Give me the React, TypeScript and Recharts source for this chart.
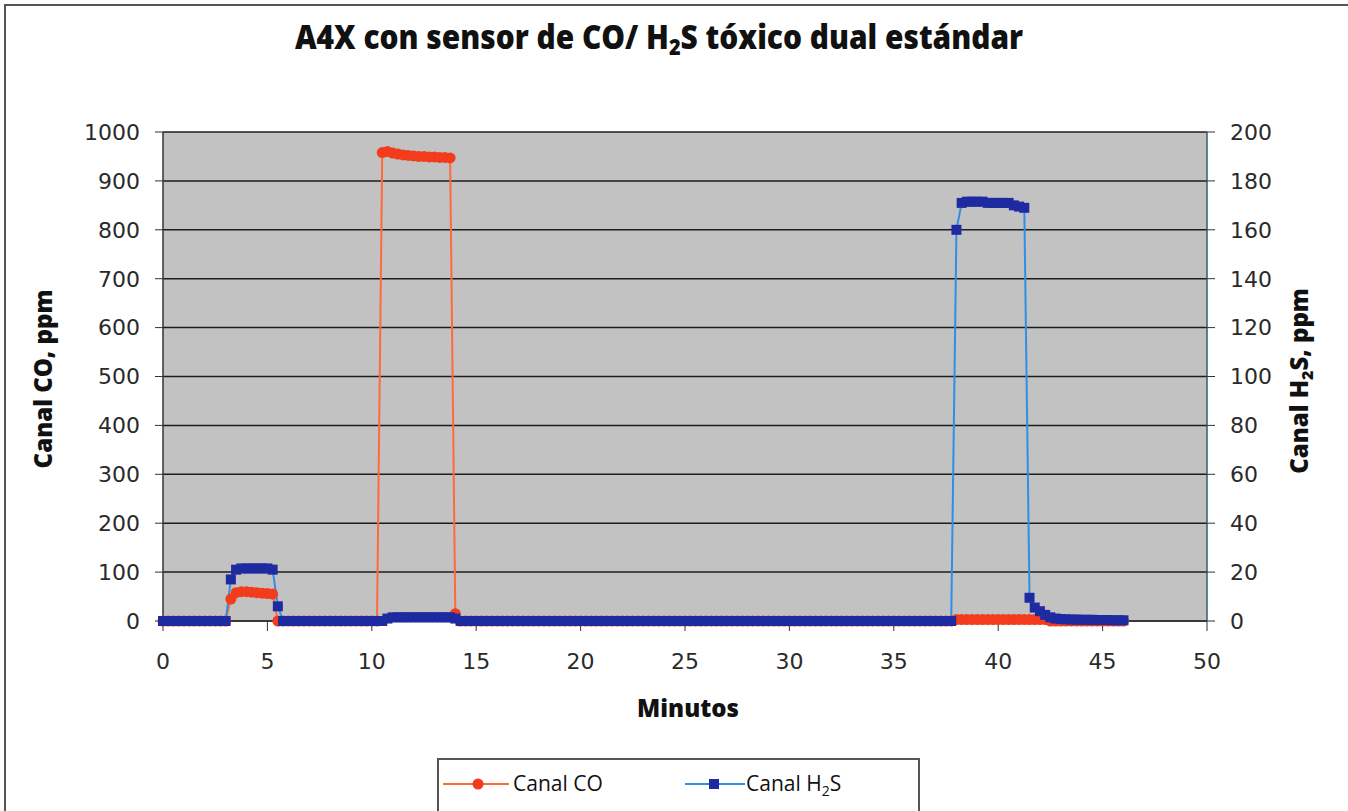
import React from "react";
import { LineChart, Line, XAxis, YAxis, CartesianGrid, Legend } from "recharts";

// Sampling clock of the logger (minutes between readings)
const MINUTES_STEP = 0.25;

// Canal CO, ppm (left axis) — one reading every 0.25 min from 0 to 46 min
const CO_PPM: number[] = [
  0, 0, 0, 0, 0, 0, 0, 0, 0, 0, 0, 0, 0,
  45, 58, 60, 60, 59, 58, 57, 56, 55,
  0,
  0, 0, 0, 0, 0, 0, 0, 0, 0, 0, 0, 0, 0, 0, 0, 0, 0, 0, 0,
  958, 960, 957, 955, 953, 952, 951, 950, 950, 949, 949, 948, 948, 947,
  15,
  0, 0, 0, 0, 0, 0, 0, 0, 0, 0, 0, 0, 0, 0, 0, 0, 0, 0, 0, 0,
  0, 0, 0, 0, 0, 0, 0, 0, 0, 0, 0, 0, 0, 0, 0, 0, 0, 0, 0, 0,
  0, 0, 0, 0, 0, 0, 0, 0, 0, 0, 0, 0, 0, 0, 0, 0, 0, 0, 0, 0,
  0, 0, 0, 0, 0, 0, 0, 0, 0, 0, 0, 0, 0, 0, 0, 0, 0, 0, 0, 0,
  0, 0, 0, 0, 0, 0, 0, 0, 0, 0, 0, 0, 0, 0, 0,
  3, 3, 3, 3, 3, 3, 3, 3, 3, 3, 3, 3, 3, 3, 3, 3, 3, 3,
  0, 0, 0, 0, 0, 0, 0, 0, 0, 0, 0, 0, 0, 0, 0,
];

// Canal H2S, ppm (right axis)
const H2S_PPM: number[] = [
  0, 0, 0, 0, 0, 0, 0, 0, 0, 0, 0, 0, 0,
  17, 21, 21.5, 21.5, 21.5, 21.5, 21.5, 21.5, 21,
  6,
  0, 0, 0, 0, 0, 0, 0, 0, 0, 0, 0, 0, 0, 0, 0, 0, 0, 0, 0, 0,
  1,
  1.5, 1.5, 1.5, 1.5, 1.5, 1.5, 1.5, 1.5, 1.5, 1.5, 1.5, 1.5,
  1,
  0, 0, 0, 0, 0, 0, 0, 0, 0, 0, 0, 0, 0, 0, 0, 0, 0, 0, 0, 0,
  0, 0, 0, 0, 0, 0, 0, 0, 0, 0, 0, 0, 0, 0, 0, 0, 0, 0, 0, 0,
  0, 0, 0, 0, 0, 0, 0, 0, 0, 0, 0, 0, 0, 0, 0, 0, 0, 0, 0, 0,
  0, 0, 0, 0, 0, 0, 0, 0, 0, 0, 0, 0, 0, 0, 0, 0, 0, 0, 0, 0,
  0, 0, 0, 0, 0, 0, 0, 0, 0, 0, 0, 0, 0, 0, 0,
  160, 171,
  171.5, 171.5, 171.5, 171.5, 171, 171, 171, 171, 171,
  170, 169.5, 169,
  9.5, 5.5, 4, 2.5, 1.5, 1, 0.8,
  0.7, 0.6, 0.6, 0.5, 0.5, 0.5, 0.4, 0.4, 0.4, 0.3, 0.3, 0.3,
];

const X_TICKS = [0, 5, 10, 15, 20, 25, 30, 35, 40, 45, 50];
const CO_TICKS = [0, 100, 200, 300, 400, 500, 600, 700, 800, 900, 1000];
const H2S_TICKS = [0, 20, 40, 60, 80, 100, 120, 140, 160, 180, 200];

const data = CO_PPM.map((co, i) => ({
  min: i * MINUTES_STEP,
  co,
  h2s: H2S_PPM[i],
}));

const CO_LINE = "#ff6a3d";
const CO_DOT = "#f23c1c";
const H2S_LINE = "#2f8fe6";
const H2S_DOT = "#1e2aa0";

const tickStyle = { fontFamily: "DejaVu Sans", fontSize: 22, fill: "#2a2a2a" };
const boldFont = "'Open Sans', 'Noto Sans', sans-serif";

const CoDot = (props: any) => {
  const { cx, cy, index } = props;
  if (cx == null || cy == null) return <g key={`c${index}`} />;
  return <circle key={`c${index}`} cx={cx} cy={cy} r={5.5} fill={CO_DOT} />;
};

const H2sDot = (props: any) => {
  const { cx, cy, index } = props;
  if (cx == null || cy == null) return <g key={`h${index}`} />;
  return <rect key={`h${index}`} x={cx - 5} y={cy - 5} width={10} height={10} fill={H2S_DOT} />;
};

const LegendContent = () => (
  <div
    style={{
      width: 479,
      height: 53,
      border: "2px solid #555",
      borderBottom: "none",
      background: "#fff",
      position: "relative",
    }}
  >
    <svg width={479} height={53} style={{ position: "absolute", left: 0, top: 0 }}>
      <line x1={4} y1={24} x2={70} y2={24} stroke={CO_LINE} strokeWidth={2} />
      <circle cx={39} cy={24} r={5.5} fill={CO_DOT} />
      <text x={74} y={31} fontFamily="'Open Sans', 'Noto Sans', sans-serif" fontSize={21} fill="#111">
        Canal CO
      </text>
      <line x1={246} y1={24} x2={306} y2={24} stroke={H2S_LINE} strokeWidth={2} />
      <rect x={270} y={19} width={10} height={10} fill={H2S_DOT} />
      <text x={307} y={31} fontFamily="'Open Sans', 'Noto Sans', sans-serif" fontSize={21} fill="#111">
        Canal H
        <tspan fontSize={14} dy={5}>2</tspan>
        <tspan dy={-5}>S</tspan>
      </text>
    </svg>
  </div>
);

export default function App() {
  return (
    <div style={{ position: "absolute", left: 0, top: 0, width: 1348, height: 811, background: "#fff" }}>
      <LineChart
        width={1348}
        height={811}
        data={data}
        margin={{ top: 132, right: 0, bottom: 0, left: 0 }}
      >
        <CartesianGrid
          yAxisId="left"
          vertical={false}
          fill="#c2c2c2"
          fillOpacity={1}
          stroke="#1c1c1c"
          strokeWidth={1.5}
        />
        <XAxis
          dataKey="min"
          type="number"
          domain={[0, 50]}
          ticks={X_TICKS}
          height={190}
          tick={tickStyle}
          tickSize={10}
          tickMargin={22}
          axisLine={{ stroke: "#333", strokeWidth: 1.5 }}
          tickLine={{ stroke: "#333" }}
        />
        <YAxis
          yAxisId="left"
          domain={[0, 1000]}
          ticks={CO_TICKS}
          width={163}
          tick={tickStyle}
          tickSize={8}
          tickMargin={15}
          axisLine={{ stroke: "#333", strokeWidth: 1.5 }}
          tickLine={{ stroke: "#333" }}
        />
        <YAxis
          yAxisId="right"
          orientation="right"
          domain={[0, 200]}
          ticks={H2S_TICKS}
          width={141}
          tick={tickStyle}
          tickSize={8}
          tickMargin={15}
          axisLine={{ stroke: "#2d5f73", strokeWidth: 1.5 }}
          tickLine={{ stroke: "#333" }}
        />
        <Legend
          layout="horizontal"
          verticalAlign="middle"
          align="center"
          wrapperStyle={{ left: 437, top: 758, width: 483, height: 53 }}
          content={<LegendContent />}
        />
        <Line
          yAxisId="left"
          dataKey="co"
          name="Canal CO"
          type="linear"
          stroke={CO_LINE}
          strokeWidth={2}
          dot={CoDot}
          activeDot={false}
          isAnimationActive={false}
        />
        <Line
          yAxisId="right"
          dataKey="h2s"
          name="Canal H2S"
          type="linear"
          stroke={H2S_LINE}
          strokeWidth={2}
          dot={H2sDot}
          activeDot={false}
          isAnimationActive={false}
        />
      </LineChart>
      <svg
        width={1348}
        height={811}
        style={{ position: "absolute", left: 0, top: 0, pointerEvents: "none" }}
      >
        <path d="M5,811 L5,5 L1348,5" fill="none" stroke="#555" strokeWidth={2} />
        <g transform="translate(659 0) scale(0.905 1) translate(-659 0)">
          <text
            x={659}
            y={49}
            textAnchor="middle"
            fontFamily={boldFont}
            fontWeight={800}
            fontSize={33}
            fill="#111"
          >
            A4X con sensor de CO/ H
            <tspan fontSize={22} dy={6}>2</tspan>
            <tspan dy={-6}>S tóxico dual estándar</tspan>
          </text>
        </g>
        <text
          x={688}
          y={717}
          textAnchor="middle"
          fontFamily={boldFont}
          fontWeight={800}
          fontSize={24}
          fill="#111"
        >
          Minutos
        </text>
        <text
          x={52}
          y={379}
          textAnchor="middle"
          transform="rotate(-90 52 379)"
          fontFamily={boldFont}
          fontWeight={800}
          fontSize={24}
          fill="#111"
        >
          Canal CO, ppm
        </text>
        <text
          x={1308}
          y={381}
          textAnchor="middle"
          transform="rotate(-90 1308 381)"
          fontFamily={boldFont}
          fontWeight={800}
          fontSize={24}
          fill="#111"
        >
          Canal H
          <tspan fontSize={16} dy={5}>2</tspan>
          <tspan dy={-5}>S, ppm</tspan>
        </text>
      </svg>
    </div>
  );
}
